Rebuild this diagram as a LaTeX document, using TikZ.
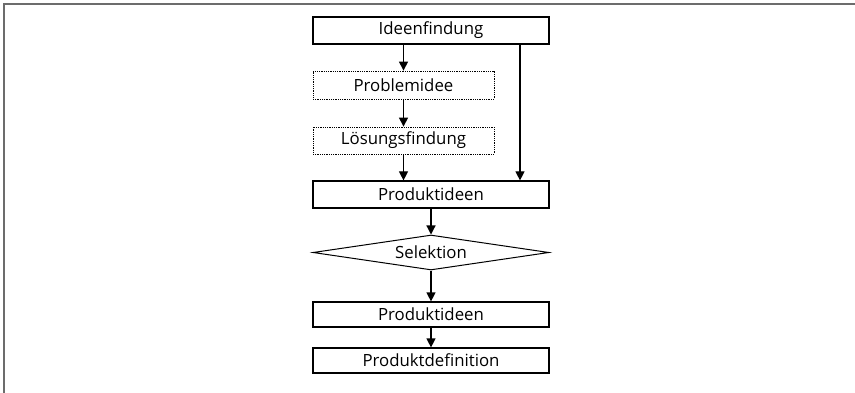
\documentclass[tikz,border=0pt]{standalone}
\usepackage{fontspec}
\setmainfont{Open Sans}
\usetikzlibrary{arrows.meta,shapes.geometric}
\begin{document}
\begin{tikzpicture}[x=1pt,y=-1pt,
  lbl/.style={font=\fontsize{16.8}{19}\selectfont},
  box/.style={lbl,draw=black,line width=1.2pt,inner sep=0pt,minimum width=236pt},
  dotbox/.style={lbl,draw=black,densely dotted,line width=0.8pt,inner sep=0pt,minimum width=181pt},
  flow/.style={line width=1.2pt,-{Triangle[width=9pt,length=9pt]}},
  frameline/.style={draw=gray!85!black,line width=2pt}]
  \useasboundingbox (0,0) rectangle (855,393);
  % open frame: top and left edges only
  \draw[frameline] (4,393) -- (4,4) -- (855,4);
  % process steps
  \node[box,minimum height=27pt] (ideen) at (431,30.5) {Ideenfindung};
  \node[dotbox,minimum height=28pt] (prob) at (403.5,85) {Problemidee};
  \node[dotbox,minimum height=27pt] (loes) at (403.5,140.5) {Lösungsfindung};
  \node[box,minimum height=27pt] (prod1) at (431,194.5) {Produktideen};
  \node[lbl,diamond,draw=black,line width=1pt,inner sep=0pt,aspect=6,minimum width=236pt,minimum height=35pt] (sel) at (431,252.5) {Selektion};
  \node[box,minimum height=25pt] (prod2) at (431,314.5) {Produktideen};
  \node[box,minimum height=25pt] (def) at (431,360.5) {Produktdefinition};
  % bypass line on the right
  \coordinate (rx) at (520,0);
  % connectors
  \draw[flow] (ideen.south -| prob.north) -- (prob.north);
  \draw[flow] (prob.south) -- (loes.north);
  \draw[flow] (loes.south) -- (prod1.north -| loes.south);
  \draw[flow] (ideen.south -| rx) -- (prod1.north -| rx);
  \draw[flow] (prod1.south) -- (sel.north);
  \draw[flow] (sel.south) -- (prod2.north);
  \draw[flow] (prod2.south) -- (def.north);
\end{tikzpicture}
\end{document}
